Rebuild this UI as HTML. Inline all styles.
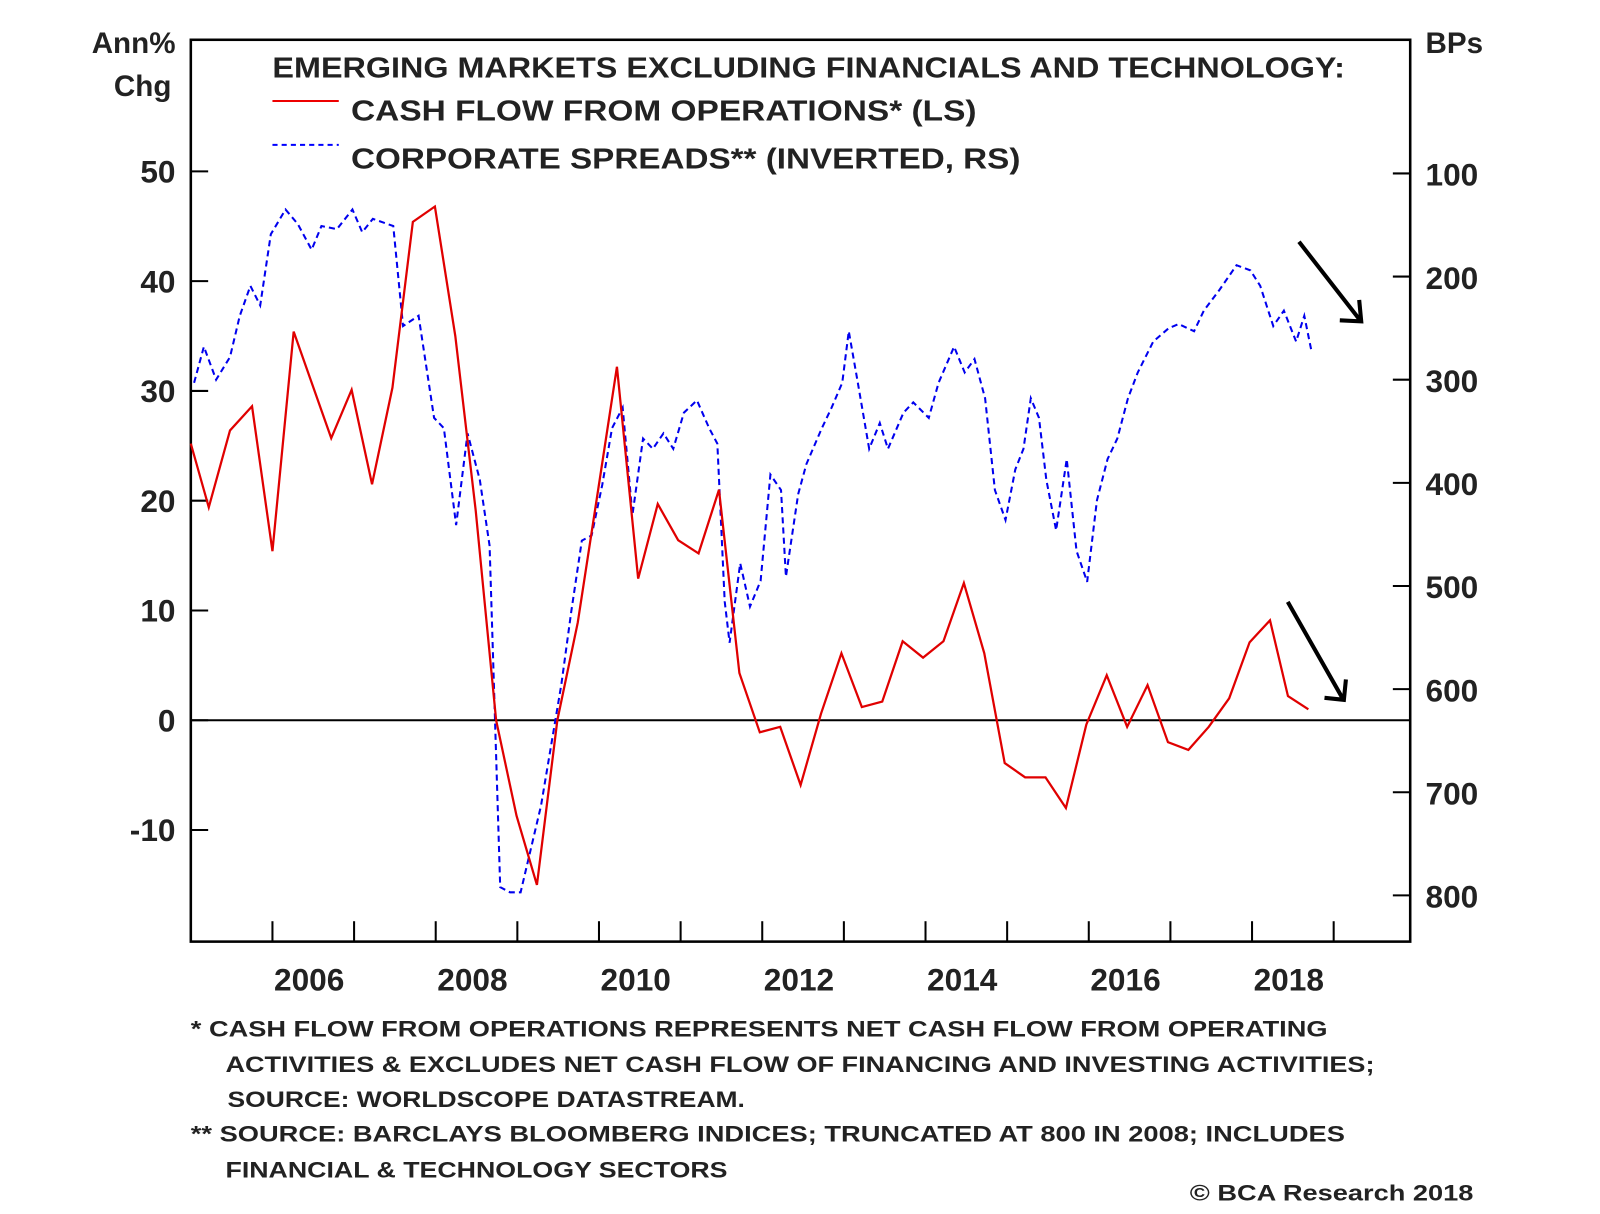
<!DOCTYPE html>
<html><head><meta charset="utf-8"><style>
html,body{margin:0;padding:0;background:#fff;}
svg{display:block;font-family:"Liberation Sans",Arial,sans-serif;font-weight:bold;}
</style></head><body>
<svg id="chart" width="1600" height="1214" viewBox="0 0 1568 1190" preserveAspectRatio="none" xmlns="http://www.w3.org/2000/svg">
<rect x="0" y="0" width="1568" height="1190" fill="#fff"/>
<g id="axes"></g>
<g id="series"></g>
<g id="texts">
<text x="172" y="52" text-anchor="end" font-size="29" fill="#222">Ann%</text>
<text x="168" y="94" text-anchor="end" font-size="29" fill="#222">Chg</text>
<text x="1397" y="52" font-size="29" fill="#222">BPs</text>
<text x="267" y="76" font-size="28" fill="#222" textLength="1051" lengthAdjust="spacingAndGlyphs">EMERGING MARKETS EXCLUDING FINANCIALS AND TECHNOLOGY:</text>
<line x1="267" y1="99" x2="332" y2="99" stroke="#e00" stroke-width="2"/>
<text x="344" y="118" font-size="28" fill="#222" textLength="613" lengthAdjust="spacingAndGlyphs">CASH FLOW FROM OPERATIONS* (LS)</text>
<line x1="267" y1="142" x2="332" y2="142" stroke="#00f" stroke-width="2" stroke-dasharray="5,4"/>
<text x="344" y="165" font-size="28" fill="#222" textLength="656" lengthAdjust="spacingAndGlyphs">CORPORATE SPREADS** (INVERTED, RS)</text>
<text x="187" y="1016" font-size="22" fill="#222" textLength="1114" lengthAdjust="spacingAndGlyphs">*  CASH FLOW FROM OPERATIONS REPRESENTS NET CASH FLOW FROM OPERATING</text>
<text x="221" y="1051" font-size="22" fill="#222" textLength="1126" lengthAdjust="spacingAndGlyphs">ACTIVITIES &amp; EXCLUDES NET CASH FLOW OF FINANCING AND INVESTING ACTIVITIES;</text>
<text x="223" y="1085" font-size="22" fill="#222" textLength="507" lengthAdjust="spacingAndGlyphs">SOURCE: WORLDSCOPE DATASTREAM.</text>
<text x="187" y="1119" font-size="22" fill="#222" textLength="1131" lengthAdjust="spacingAndGlyphs">** SOURCE: BARCLAYS BLOOMBERG INDICES; TRUNCATED AT 800 IN 2008; INCLUDES</text>
<text x="221" y="1154" font-size="22" fill="#222" textLength="492" lengthAdjust="spacingAndGlyphs">FINANCIAL &amp; TECHNOLOGY SECTORS</text>
<text x="1444" y="1177" text-anchor="end" font-size="22" fill="#222" textLength="278" lengthAdjust="spacingAndGlyphs">© BCA Research 2018</text>
</g>
<g stroke="#000" stroke-width="4" fill="none">
<path d="M1273,237 L1333,314 M1313,314 L1334,315 L1332,294"/>
<path d="M1262,590 L1316,685 M1298,684 L1317,686 L1319,666"/>
</g>
</svg>
<script>
const cfDates=[2005.0,2005.22,2005.48,2005.75,2006.0,2006.26,2006.72,2006.97,2007.22,2007.47,2007.72,2007.99,2008.24,2008.49,2008.74,2008.99,2009.24,2009.49,2009.74,2009.99,2010.22,2010.48,2010.72,2010.97,2011.22,2011.47,2011.72,2011.97,2012.22,2012.47,2012.72,2012.97,2013.22,2013.47,2013.72,2013.97,2014.22,2014.47,2014.72,2014.97,2015.22,2015.47,2015.72,2015.97,2016.22,2016.47,2016.72,2016.97,2017.22,2017.47,2017.72,2017.97,2018.22,2018.44,2018.69];
const cfValues=[25.2,19.4,26.4,28.6,15.4,35.4,25.7,30.1,21.5,30.3,45.4,46.8,35,19.1,0,-8.7,-15,0,8.9,21,32.2,12.9,19.7,16.4,15.2,21,4.3,-1.1,-0.6,-5.9,0.6,6.1,1.2,1.7,7.2,5.7,7.2,12.5,6.1,-3.9,-5.2,-5.2,-8,-0.4,4.1,-0.6,3.2,-2,-2.7,-0.6,2,7.1,9.1,2.2,1];
const spDates=[2005.04,2005.16,2005.31,2005.48,2005.6,2005.73,2005.85,2005.98,2006.16,2006.31,2006.48,2006.6,2006.79,2006.98,2007.1,2007.23,2007.48,2007.6,2007.79,2007.98,2008.1,2008.25,2008.39,2008.54,2008.66,2008.79,2008.91,2009.04,2009.29,2009.54,2009.66,2009.79,2009.91,2010.04,2010.16,2010.29,2010.41,2010.54,2010.66,2010.79,2010.91,2011.04,2011.2,2011.35,2011.45,2011.54,2011.6,2011.73,2011.85,2011.98,2012.1,2012.23,2012.29,2012.44,2012.54,2012.73,2012.85,2012.98,2013.06,2013.16,2013.31,2013.44,2013.54,2013.73,2013.85,2014.04,2014.16,2014.35,2014.48,2014.6,2014.73,2014.85,2014.98,2015.1,2015.2,2015.29,2015.39,2015.48,2015.6,2015.73,2015.85,2015.98,2016.1,2016.23,2016.35,2016.48,2016.6,2016.79,2016.98,2017.1,2017.29,2017.41,2017.6,2017.81,2017.98,2018.1,2018.26,2018.39,2018.54,2018.64,2018.73,2018.85];
const spValues=[303,268,300,278,238,209,228,159,135,149,174,151,154,135,157,144,151,248,238,337,347,441,352,397,461,792,797,797,713,595,525,456,451,402,347,327,431,357,367,352,367,332,320,347,362,515,555,478,520,495,392,407,491,411,382,347,327,303,253,298,367,342,367,332,322,337,303,268,293,280,318,407,436,387,367,318,337,397,446,377,466,496,417,377,357,318,293,263,250,246,253,233,213,189,194,209,248,233,263,238,273];
const leftTicks=[50,40,30,20,10,0,-10];
const rightTicks=[100,200,300,400,500,600,700,800];
const yearTicks=[2006,2007,2008,2009,2010,2011,2012,2013,2014,2015,2016,2017,2018,2019];
const yearLabels=[2006,2008,2010,2012,2014,2016,2018];

const NS="http://www.w3.org/2000/svg";
const L=187,R=1382,T=39,B=923;
const xS=d=>L+(d-2005)*80;
const yL=v=>706-v*10.76;
const yR=v=>170+(v-100)*1.011;
function mk(p,tag,attrs){const e=document.createElementNS(NS,tag);for(const k in attrs)e.setAttribute(k,attrs[k]);p.appendChild(e);return e;}
const ax=document.getElementById('axes');
const fr=mk(ax,'rect',{x:L,y:T,width:R-L,height:B-T,fill:'none',stroke:'#000','stroke-width':2.5});


const z=mk(ax,'line',{x1:L,x2:R,y1:yL(0),y2:yL(0),stroke:'#000','stroke-width':2});


leftTicks.forEach(v=>{
 const t=mk(ax,'line',{x1:L,x2:L+17,y1:yL(v),y2:yL(v),stroke:'#000','stroke-width':2});
 
 
 const tx=mk(ax,'text',{x:172,y:yL(v)+11,'text-anchor':'end','font-size':31,fill:'#222'});
 tx.textContent=v;
 
 
});
rightTicks.forEach(v=>{
 const t=mk(ax,'line',{x1:R-17,x2:R,y1:yR(v),y2:yR(v),stroke:'#000','stroke-width':2});
 
 
 const tx=mk(ax,'text',{x:1397,y:yR(v)+12,'font-size':31,fill:'#222'});
 tx.textContent=v;
 
 
});
yearTicks.forEach(y=>{
 const t=mk(ax,'line',{x1:xS(y),x2:xS(y),y1:B-20,y2:B,stroke:'#000','stroke-width':2});
 
 
});
yearLabels.forEach(y=>{
 const tx=mk(ax,'text',{x:xS(y+0.45),y:971,'text-anchor':'middle','font-size':31,fill:'#222'});
 tx.textContent=y;
 
 
});
const se=document.getElementById('series');
const sp=mk(se,'polyline',{points:spDates.map((d,i)=>xS(d)+','+yR(spValues[i])).join(' '),fill:'none',stroke:'#0000ee','stroke-width':2,'stroke-dasharray':'6,4'});


const cf=mk(se,'polyline',{points:cfDates.map((d,i)=>xS(d)+','+yL(cfValues[i])).join(' '),fill:'none',stroke:'#e00000','stroke-width':2.2});


</script>
</body></html>
